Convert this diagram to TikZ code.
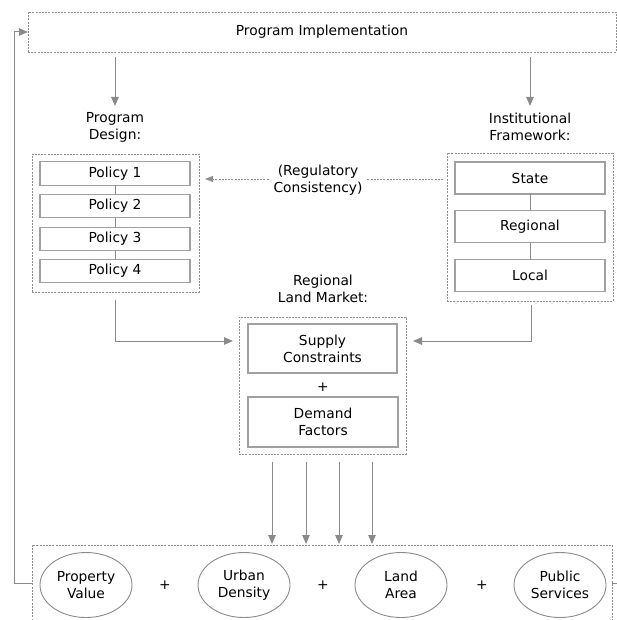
\documentclass[tikz,border=0pt]{standalone}
\usepackage{fontspec}
\setmainfont{DejaVu Sans}
\usetikzlibrary{arrows.meta,shapes.geometric}
\definecolor{lc}{HTML}{8A8A8A}
\definecolor{bc}{HTML}{A0A0A0}
\definecolor{dc}{HTML}{8E8E8E}
\begin{document}
\begin{tikzpicture}[x=1pt,y=-1pt,
  every node/.style={font=\fontsize{13.8}{17}\selectfont, text=black, inner sep=0pt, outer sep=0pt},
  dbox/.style={draw=dc, line width=0.8pt, dash pattern=on 2pt off 1.2pt},
  sbox/.style={draw=bc, line width=1.1pt, fill=white, align=center},
  link/.style={draw=lc, line width=1pt},
  arr/.style={draw=lc, line width=1pt, -{Triangle[length=9pt,width=7.5pt]}, color=lc},
  darr/.style={draw=dc, line width=0.8pt, dash pattern=on 2pt off 1.2pt},
  oval/.style={ellipse, draw=lc, line width=0.9pt, minimum width=92pt, minimum height=65pt, align=center},
  lbl/.style={align=center}
]
\path[use as bounding box, clip] (0,0) rectangle (617,620);

% top box
\node[dbox, minimum width=588pt, minimum height=40pt] (pi) at (322,32) {Program Implementation};

% labels
\node[lbl] (pdl) at (115,127) {Program\\Design:};
\node[lbl] (ifl) at (530,127) {Institutional\\Framework:};

% policy group
\node[dbox, minimum width=167pt, minimum height=138pt] (pol) at (115.5,223) {};
\node[sbox, minimum width=150pt, minimum height=23.5pt] (p1) at (115,173.5) {Policy 1};
\node[sbox, minimum width=150pt, minimum height=23.5pt] (p2) at (115,206) {Policy 2};
\node[sbox, minimum width=150pt, minimum height=23.5pt] (p3) at (115,239) {Policy 3};
\node[sbox, minimum width=150pt, minimum height=23.5pt] (p4) at (115,271) {Policy 4};
\draw[link] (p1) -- (p2);
\draw[link] (p2) -- (p3);
\draw[link] (p3) -- (p4);

% institutional group
\node[dbox, minimum width=166pt, minimum height=148pt] (inst) at (530,227) {};
\node[sbox, minimum width=150pt, minimum height=32pt] (st) at (530,178) {State};
\node[sbox, minimum width=150pt, minimum height=32pt] (rg) at (530,226.5) {Regional};
\node[sbox, minimum width=150pt, minimum height=32pt] (lc) at (530,275.5) {Local};
\draw[link] (st) -- (rg);
\draw[link] (rg) -- (lc);

% regulatory consistency
\node[lbl, inner xsep=5pt] (reg) at (318,180) {(Regulatory\\Consistency)};
\coordinate (rgR) at (443,179);
\coordinate (rgL) at (205,179);
\draw[darr] (rgR) -- (reg.east |- rgR);
\draw[darr, -{Triangle[length=8pt,width=6pt]}, color=dc] (reg.west |- rgL) -- (rgL);

% regional land market
\node[lbl] (mkl) at (323,289) {Regional\\Land Market:};
\node[dbox, minimum width=167pt, minimum height=137pt] (mkt) at (322.5,385.5) {};
\node[sbox, minimum width=149pt, minimum height=49pt] (sup) at (322.5,348.5) {Supply\\Constraints};
\node (plm) at (323,387) {+};
\node[sbox, minimum width=150pt, minimum height=50pt] (dem) at (323,422) {Demand\\Factors};

% arrows top
\coordinate (t1) at (115,57);
\coordinate (b1) at (115,106);
\coordinate (t2) at (530,57);
\coordinate (b2) at (530,106);
\draw[arr] (t1) -- (b1);
\draw[arr] (t2) -- (b2);

% arrows to market
\coordinate (mL) at (233,341);
\coordinate (mR) at (413,341);
\coordinate (pS) at (115,300);
\coordinate (iS) at (531,305);
\draw[arr] (pS) |- (mL);
\draw[arr] (iS) |- (mR);

% bottom group
\node[dbox, anchor=north west, minimum width=580pt, minimum height=120pt] (bot) at (32,545) {};
\foreach \x [count=\i] in {272,306,339,372}{
  \coordinate (s\i) at (\x,462);
  \coordinate (e\i) at (\x,544);
  \draw[arr] (s\i) -- (e\i);
}
\node[oval] (o1) at (86,585) {Property\\Value};
\node[oval] (o2) at (244,585) {Urban\\Density};
\node[oval] (o3) at (401,585) {Land\\Area};
\node[oval] (o4) at (560,585) {Public\\Services};
\node (pl1) at (165,585) {+};
\node (pl2) at (323,585) {+};
\node (pl3) at (482,585) {+};

% feedback
\coordinate (fbB) at (32,583);
\coordinate (fbT) at (14.5,32);
\draw[arr] (fbB) -| (fbT) -- (pi.west);
\coordinate (rtA) at (612,583);
\coordinate (rtB) at (618,583);
\draw[link, line width=0.9pt] (rtA) -- (rtB);
\end{tikzpicture}
\end{document}
